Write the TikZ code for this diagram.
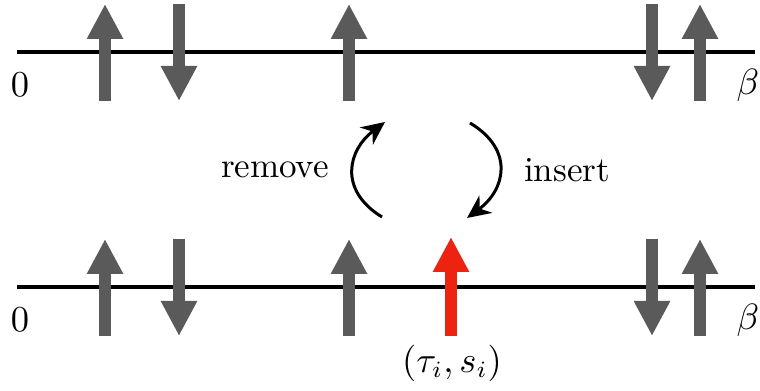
\documentclass[tikz,border=0pt]{standalone}
\usepackage{tikz}
\usetikzlibrary{arrows.meta}
\definecolor{spingray}{RGB}{90,90,90}
\definecolor{spinred}{RGB}{238,34,17}

\begin{document}
\begin{tikzpicture}[
  x=0.3pt, y=-0.3pt,
  axis/.style={draw=black, line width=1.2pt},
  spin/.style={draw=spingray, fill=spingray, line width=3.6pt, -{Triangle[length=10.5pt,width=10.2pt]}},
  newspin/.style={spin, draw=spinred, fill=spinred},
  move/.style={draw=black, line width=0.9pt, -{Stealth[length=7pt,width=6.5pt]}},
  lab/.style={inner sep=1pt, font=\fontsize{10.5}{12}\selectfont}
]
\useasboundingbox (0,0) rectangle (760,391);
\foreach \y/\id in {52/t,287/b} {
  \coordinate (s\id) at (17,\y);
  \coordinate (e\id) at (755,\y);
  \draw[axis] (s\id) -- (e\id);
  \node[lab] (zero\id) at (20,\y+33) {$0$};
  \node[lab] (beta\id) at (748,\y+33) {$\beta$};
}
\foreach \dy in {0,235} {
  \foreach \x/\a/\b in {105/101/4,179/4/101,349/101/4,652/4/101,700/101/4} {
    \draw[spin] (\x,\a+\dy) -- (\x,\b+\dy);
  }
}
\draw[newspin] (451,336) -- (451,237);
\node[lab] (tau) at (452,363) {$(\tau_i,s_i)$};
\coordinate (rmA) at (382,217);
\coordinate (rmB) at (385,122);
\coordinate (inA) at (470,123);
\coordinate (inB) at (467,218);
\draw[move] (rmA) .. controls (338,190) and (348,150) .. (rmB);
\draw[move] (inA) .. controls (515,150) and (505,190) .. (inB);
\node[lab] (remove) at (275,170) {remove};
\node[lab] (insert) at (567,170) {insert};
\end{tikzpicture}
\end{document}
